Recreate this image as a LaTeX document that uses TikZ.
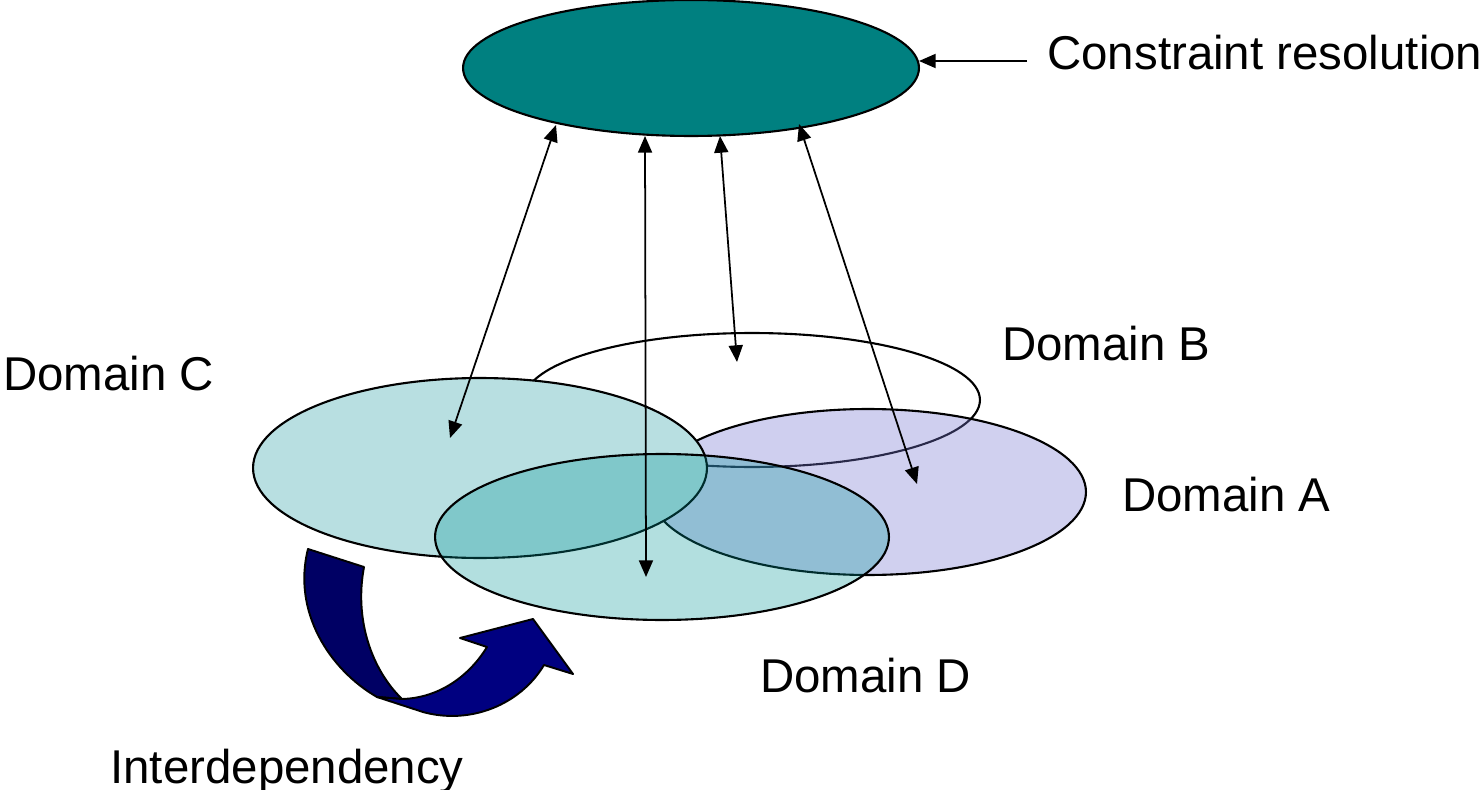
\documentclass[tikz,border=0pt]{standalone}
\usepackage{fontspec}
\setmainfont{Liberation Sans}
\usetikzlibrary{shapes.geometric,arrows.meta}
\definecolor{crfill}{RGB}{0,128,128}
\definecolor{cfill}{RGB}{184,223,225}
\definecolor{afill}{RGB}{120,120,210}
\definecolor{dfill}{RGB}{0,150,150}
\definecolor{navyA}{RGB}{0,0,100}
\definecolor{navyB}{RGB}{0,0,128}
\tikzset{
  dom/.style={ellipse, draw=black, line width=1.2pt, inner sep=0pt},
  lbl/.style={anchor=base west, inner sep=0pt, font=\fontsize{27}{32}\selectfont},
  arr/.style={line width=1pt, -{Triangle[length=9.5pt,width=8pt]}},
  darr/.style={line width=1pt, {Triangle[length=9.5pt,width=8pt]}-{Triangle[length=9.5pt,width=8pt]}},
  bandA/.style={fill=navyA, draw=black, line width=1.1pt, line join=round},
  bandB/.style={fill=navyB, draw=black, line width=1.1pt, line join=round}
}
\begin{document}
\begin{tikzpicture}[x=0.02cm, y=-0.02cm]
\useasboundingbox (0,0) rectangle (1483,790);
% domains
\node[dom, fill=white, minimum width=9.12cm, minimum height=2.68cm] (B) at (752,400) {};
\node[dom, fill=afill, fill opacity=0.35, minimum width=8.72cm, minimum height=3.32cm] (A) at (868,492) {};
\node[dom, fill=cfill, minimum width=9.08cm, minimum height=3.6cm] (C) at (480,468) {};
\node[dom, fill=dfill, fill opacity=0.3, minimum width=9.08cm, minimum height=3.32cm] (D) at (662,537) {};
% constraint resolution
\node[dom, fill=crfill, minimum width=9.12cm, minimum height=2.72cm] (R) at (691,68) {};
% labels
\node[lbl] (tR) at (1047,70) {Constraint resolution};
\node[lbl] (tB) at (1002,360) {Domain B};
\node[lbl] (tC) at (3,390) {Domain C};
\node[lbl] (tA) at (1122,511) {Domain A};
\node[lbl] (tD) at (760,692) {Domain D};
\node[lbl] (tI) at (110,783) {Interdependency};
% arrow endpoints
\coordinate (s1) at (556,125);
\coordinate (s2) at (645,136);
\coordinate (s3) at (720,136);
\coordinate (s4) at (799,124);
\coordinate (e1) at (450,438);
\coordinate (e2) at (646,577);
\coordinate (e3) at (737,362);
\coordinate (e4) at (917,484);
\coordinate (cr) at (1027,61);
\coordinate (crt) at (919,61);
\draw[darr] (s1) -- (e1);
\draw[darr] (s2) -- (e2);
\draw[darr] (s3) -- (e3);
\draw[darr] (s4) -- (e4);
\draw[arr] (cr) -- (crt);
% curved interdependency arrow
\path[bandA] (308,549) -- (364,567) .. controls (354,620) and (372,670) .. (402,699)
  -- (377,697) .. controls (330,670) and (292,612) .. (308,549) -- cycle;
\path[bandB] (377,697) -- (423,712) .. controls (470,725) and (520,705) .. (544,665)
  -- (573,674) -- (533,619) -- (460,638) -- (487,647)
  .. controls (470,675) and (440,698) .. (402,699) -- cycle;
\end{tikzpicture}
\end{document}
